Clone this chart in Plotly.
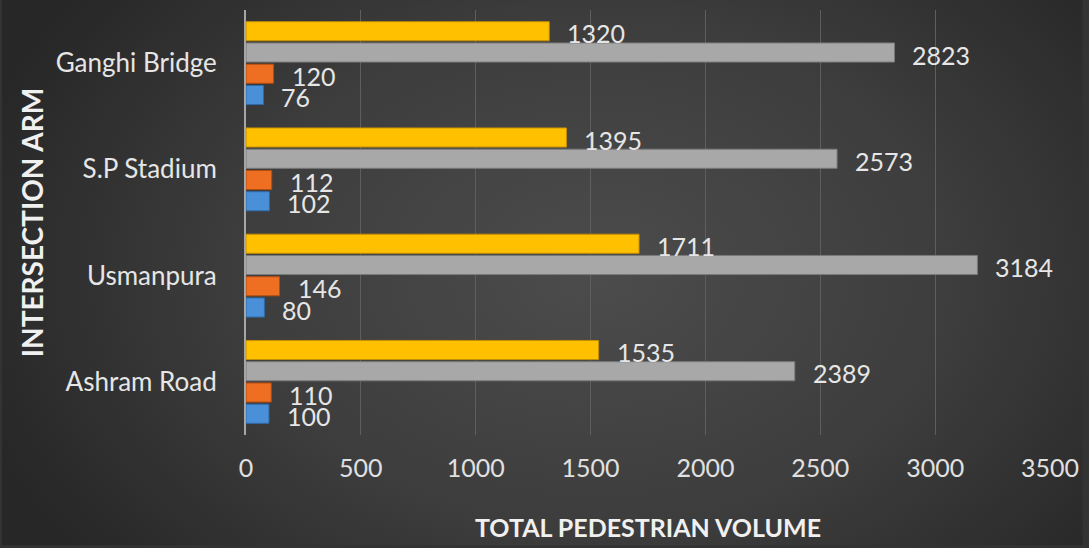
import base64
import plotly.graph_objects as go

# Intersection arms, bottom to top
arms = ["Ashram Road", "Usmanpura", "S.P Stadium", "Ganghi Bridge"]

# Pedestrian volume series per arm (same order as arms)
series_a = [100, 80, 102, 76]      # blue
series_b = [110, 146, 112, 120]    # orange
series_c = [2389, 3184, 2573, 2823]  # gray
series_d = [1535, 1711, 1395, 1320]  # yellow

series_names = ["Series 1", "Series 2", "Series 3", "Series 4"]
series_values = [series_a, series_b, series_c, series_d]
series_colors = ["#4a90d9", "#ee6e22", "#a8a8a8", "#ffc000"]
edge_colors = ["#2f6aa8", "#b24d10", "#7a7a7a", "#c48f00"]

x_ticks = [0, 500, 1000, 1500, 2000, 2500, 3000, 3500]

W, H = 1089, 548
M_L, M_R, M_T, M_B = 246, 33, 10, 111
BARGAP = 0.2
GROUPGAP = 0.1

FONT = "Lato, 'Open Sans', sans-serif"
TEXT_COLOR = "#e6e6e6"

fig = go.Figure()
for name, vals, col, edge in zip(series_names, series_values, series_colors, edge_colors):
    fig.add_trace(go.Bar(
        y=arms, x=vals, orientation="h", name=name,
        marker=dict(color=col, line=dict(color=edge, width=1)),
        hoverinfo="x+y",
    ))

# Value labels placed just past each bar end
n = len(series_values)
slot = (1 - BARGAP) / n
annotations = []
for k, vals in enumerate(series_values):
    for j, v in enumerate(vals):
        annotations.append(dict(
            x=v, y=j + (k - (n - 1) / 2) * slot,
            xref="x", yref="y", text=str(v), showarrow=False,
            xanchor="left", yanchor="middle", xshift=16, yshift=-2,
            font=dict(family=FONT, size=25, color=TEXT_COLOR),
        ))

# Dark radial backdrop covering the whole canvas
svg = f"""<svg xmlns='http://www.w3.org/2000/svg' width='{W}' height='{H}' viewBox='0 0 {W} {H}' preserveAspectRatio='none'>
<defs><radialGradient id='g' cx='0.55' cy='0.5' r='0.6' gradientTransform='translate(0.55 0.5) scale(1 1.4) translate(-0.55 -0.5)'>
<stop offset='0' stop-color='#4c4c4c'/><stop offset='0.55' stop-color='#3d3d3d'/><stop offset='1' stop-color='#272727'/></radialGradient></defs>
<rect width='{W}' height='{H}' fill='url(#g)'/></svg>"""
src = "data:image/svg+xml;base64," + base64.b64encode(svg.encode()).decode()
pw, ph = W - M_L - M_R, H - M_T - M_B

fig.update_layout(
    width=W, height=H,
    margin=dict(l=M_L, r=M_R, t=M_T, b=M_B),
    barmode="group", bargap=BARGAP, bargroupgap=GROUPGAP,
    paper_bgcolor="#333333", plot_bgcolor="rgba(0,0,0,0)",
    showlegend=False,
    font=dict(family=FONT, color=TEXT_COLOR),
    annotations=annotations,
    images=[dict(source=src, xref="paper", yref="paper",
                 x=-M_L / pw, y=1 + M_T / ph, sizex=W / pw, sizey=H / ph,
                 xanchor="left", yanchor="top", sizing="stretch", layer="below")],
    xaxis=dict(
        range=[0, 3500], tickvals=x_ticks, ticktext=[str(t) for t in x_ticks],
        showgrid=True, gridcolor="#5e5e5e", gridwidth=1, zeroline=False,
        showline=False, ticks="", ticklabelstandoff=16,
        tickfont=dict(family=FONT, size=25, color="#e0e0e0"),
        title=dict(text="<b>TOTAL PEDESTRIAN VOLUME</b>", standoff=38,
                   font=dict(family=FONT, size=25, color="#f0f0f0")),
    ),
    yaxis=dict(
        categoryorder="array", categoryarray=arms,
        showline=True, linecolor="#a6a6a6", linewidth=2,
        showgrid=False, ticks="", ticklabelstandoff=22,
        tickfont=dict(family=FONT, size=26, color="#e6e6e6"),
        title=dict(text="<b>INTERSECTION ARM</b>", standoff=4,
                   font=dict(family=FONT, size=28, color="#f0f0f0")),
    ),
)

fig.write_html("out.html")
